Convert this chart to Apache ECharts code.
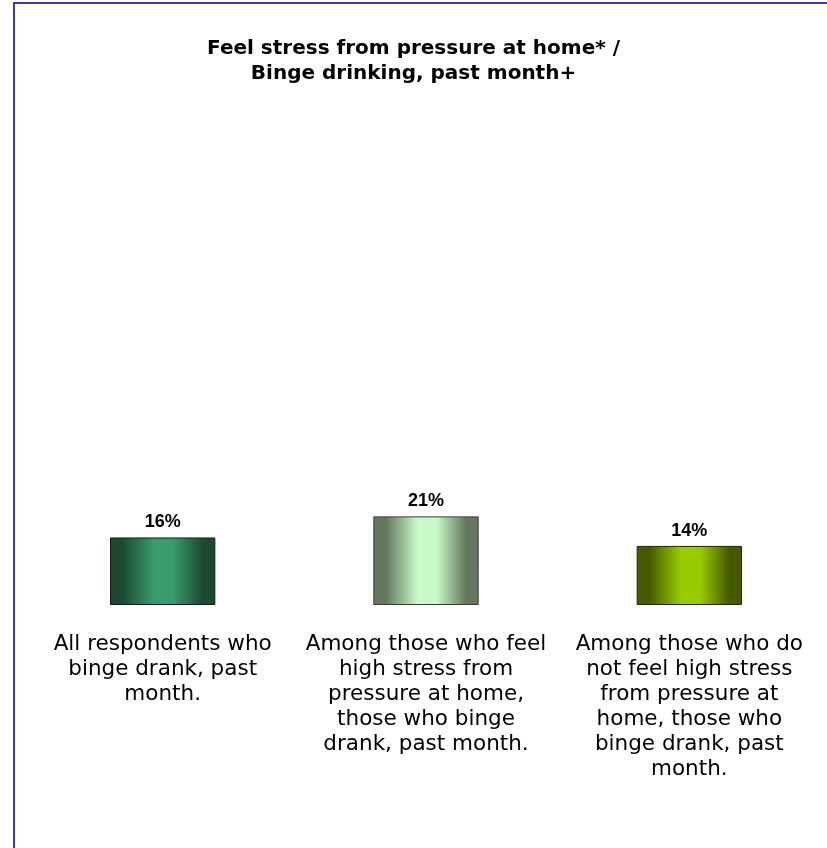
<!DOCTYPE html>
<html>
<head>
<meta charset="utf-8">
<script src="https://cdn.jsdelivr.net/npm/echarts@6/dist/echarts.min.js"></script>
<style>
html,body{margin:0;padding:0;background:#fff;}
#chart{width:827px;height:848px;}
</style>
</head>
<body>
<div id="chart"></div>
<script>
const titleText = 'Feel stress from pressure at home* /\nBinge drinking, past month+';
const categories = [
  'All respondents who\nbinge drank, past\nmonth.',
  'Among those who feel\nhigh stress from\npressure at home,\nthose who binge\ndrank, past month.',
  'Among those who do\nnot feel high stress\nfrom pressure at\nhome, those who\nbinge drank, past\nmonth.'
];
const values = [16, 21, 14];
const edgeColors = ['#1b4a32', '#65785f', '#465a00'];
const midColors = ['#3a9c6c', '#c8f9c8', '#99cc00'];
const borderColors = ['#111a14', '#3a3a3a', '#1e2600'];

function grad(i) {
  return {
    type: 'linear', x: 0, y: 0, x2: 1, y2: 0,
    colorStops: [
      {offset: 0, color: edgeColors[i]},
      {offset: 0.12, color: edgeColors[i]},
      {offset: 0.42, color: midColors[i]},
      {offset: 0.6, color: midColors[i]},
      {offset: 0.88, color: edgeColors[i]},
      {offset: 1, color: edgeColors[i]}
    ]
  };
}

const chart = echarts.init(document.getElementById('chart'), null, {renderer: 'canvas'});
chart.setOption({
  backgroundColor: '#ffffff',
  animation: false,
  title: {
    text: titleText,
    left: 'center',
    top: 31,
    textStyle: {
      fontFamily: 'DejaVu Sans',
      fontWeight: 'bold',
      fontSize: 20,
      lineHeight: 25,
      color: '#000'
    }
  },
  graphic: [{
    type: 'polyline',
    shape: {points: [[14, 848], [14, 3], [827, 3]]},
    style: {stroke: '#3c3ca2', lineWidth: 2, fill: null}
  }],
  grid: {left: 31, right: 6, top: 183, bottom: 243},
  xAxis: {
    type: 'category',
    data: categories,
    axisLine: {show: false},
    axisTick: {show: false},
    axisLabel: {
      interval: 0,
      margin: 27,
      fontFamily: 'DejaVu Sans',
      fontSize: 21.5,
      lineHeight: 25,
      color: '#000',
      align: 'center'
    }
  },
  yAxis: {
    type: 'value',
    min: 0,
    max: 100,
    show: false,
    splitLine: {show: false}
  },
  series: [{
    type: 'bar',
    barWidth: '40%',
    data: values.map((v, i) => ({
      value: v,
      itemStyle: {color: grad(i), borderColor: borderColors[i], borderWidth: 1}
    })),
    label: {
      show: true,
      position: 'top',
      distance: 6,
      formatter: '{c}%',
      fontFamily: 'Liberation Sans',
      fontWeight: 'bold',
      fontSize: 18,
      color: '#000'
    }
  }]
});
</script>
</body>
</html>
